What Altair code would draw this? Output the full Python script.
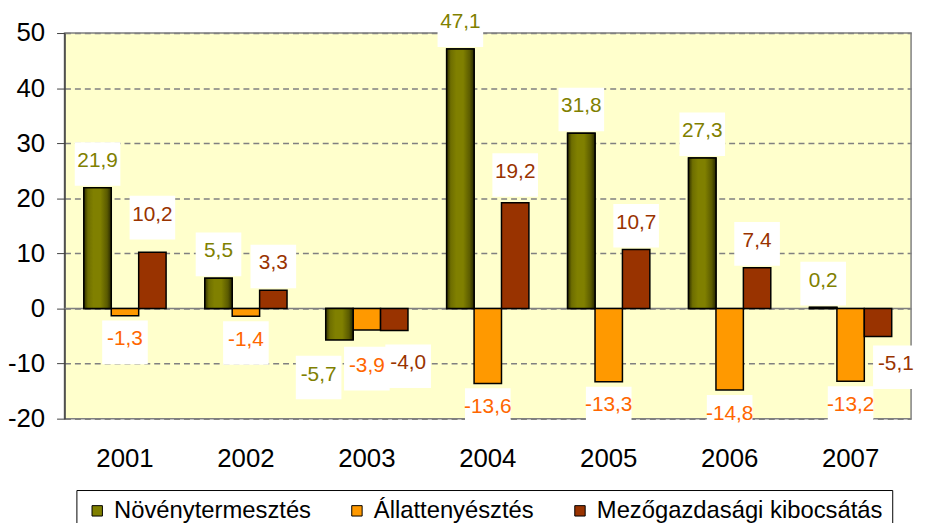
import altair as alt
import pandas as pd

years = ["2001", "2002", "2003", "2004", "2005", "2006", "2007"]
series = ["Növénytermesztés", "Állattenyésztés", "Mezőgazdasági kibocsátás"]
noveny = [21.9, 5.5, -5.7, 47.1, 31.8, 27.3, 0.2]
allat = [-1.3, -1.4, -3.9, -13.6, -13.3, -14.8, -13.2]
mezo = [10.2, 3.3, -4.0, 19.2, 10.7, 7.4, -5.1]

bar_colors = ["#808000", "#FF9900", "#993300"]
label_colors = ["#808000", "#FF6600", "#993300"]

# label placement (text dx, dy in px from the bar end)
POS_OFF = (0, -27)
NEG_OFF = (0, 24)
nudges = {
    ("2001", 2): (0, -38),
    ("2004", 2): (0, -31),
    ("2003", 0): (-21, 35),
    ("2003", 1): (0, 36),
    ("2003", 2): (14, 33),
    ("2007", 2): (18, 28),
}

rows = []
for si, vals in enumerate([noveny, allat, mezo]):
    for yr, v in zip(years, vals):
        dx, dy = nudges.get((yr, si), POS_OFF if v >= 0 else NEG_OFF)
        rows.append({
            "year": yr, "series": series[si], "sidx": si, "value": v,
            "label": f"{v:.1f}".replace(".", ","),
            "lcolor": label_colors[si], "dx": dx, "dy": dy,
        })
df = pd.DataFrame(rows)

FONT = "Liberation Sans"

x_enc = alt.X("year:N", sort=years,
              scale=alt.Scale(domain=years, paddingInner=0.32, paddingOuter=0.16),
              axis=alt.Axis(title=None, labelAngle=0, ticks=False, domain=False,
                            labelFontSize=26, labelColor="black", labelPadding=27,
                            labelFont=FONT, grid=False))
xo_enc = alt.XOffset("series:N", sort=series,
                     scale=alt.Scale(domain=series, paddingInner=0, paddingOuter=0))
y_enc = alt.Y("value:Q",
              scale=alt.Scale(domain=[-20, 50], nice=False, zero=True),
              axis=alt.Axis(title=None, values=list(range(-20, 51, 10)),
                            labelExpr="'' + datum.value", labelFontSize=26,
                            labelColor="black", labelFont=FONT, tickSize=8,
                            tickColor="#404040", domainColor="#404040",
                            domainWidth=1.5, labelPadding=12, grid=True,
                            gridColor="#808080", gridDash=[6, 4], gridWidth=1.5))

base = alt.Chart(df)

zero = alt.Chart(pd.DataFrame({"z": [0]})).mark_rule(
    color="#808080", strokeWidth=1.5).encode(y=alt.Y("z:Q"))

bars = base.mark_bar(stroke="black", strokeWidth=1.5).encode(
    x=x_enc, xOffset=xo_enc, y=y_enc,
    color=alt.Color("series:N", sort=series,
                    scale=alt.Scale(domain=series, range=bar_colors),
                    legend=alt.Legend(title=None)),
)

green_grad = alt.Gradient(
    gradient="linear", x1=0, x2=1, y1=0, y2=0,
    stops=[alt.GradientStop(color="#2e2e00", offset=0),
           alt.GradientStop(color="#6e6e00", offset=0.15),
           alt.GradientStop(color="#808000", offset=0.35),
           alt.GradientStop(color="#808000", offset=0.6),
           alt.GradientStop(color="#5a5a00", offset=0.85),
           alt.GradientStop(color="#262600", offset=1)])

green = base.transform_filter(alt.datum.sidx == 0).mark_bar(
    fill=green_grad, stroke="black", strokeWidth=1.5).encode(
    x=x_enc, xOffset=xo_enc, y=y_enc)

layers = [zero, bars, green]

S = 22.0  # symbol path unit (sqrt(size)/2)
for si in range(3):
    sub = df[df.sidx == si]
    combos = sorted(set(zip(sub.dx, sub.dy)))
    for dx, dy in combos:
        cx, cy = dx, dy + 3
        x0, x1 = (cx - 23) / S, (cx + 23) / S
        y0, y1 = (cy - 22) / S, (cy + 22) / S
        path = f"M{x0:.4f},{y0:.4f}L{x1:.4f},{y0:.4f}L{x1:.4f},{y1:.4f}L{x0:.4f},{y1:.4f}Z"
        filt = (alt.datum.sidx == si) & (alt.datum.dx == int(dx)) & (alt.datum.dy == int(dy))
        box = base.transform_filter(filt).mark_point(
            shape=path, size=S * S * 4, filled=True, fill="white",
            strokeWidth=0, opacity=1).encode(x=x_enc, xOffset=xo_enc, y=y_enc)
        txt = base.transform_filter(filt).mark_text(
            dx=int(dx), dy=int(dy), fontSize=21, font=FONT,
            baseline="middle", align="center").encode(
            x=x_enc, xOffset=xo_enc, y=y_enc, text="label:N",
            color=alt.Color("lcolor:N", scale=None))
        layers += [box, txt]

chart = alt.layer(*layers).properties(
    width=854, height=389,
    padding={"left": 57, "top": 23, "right": 8, "bottom": 103},
    autosize=alt.AutoSizeParams(type="none"),
).configure(font=FONT).configure_view(
    fill="#FFFFCC", stroke="#808080", strokeWidth=1.5
).configure_legend(
    orient="none", legendX=12, legendY=461, direction="horizontal",
    fillColor="white", strokeColor="black", padding=9,
    symbolType="square", symbolSize=110, symbolStrokeColor="black",
    symbolStrokeWidth=1, symbolOpacity=1, labelFontSize=24, labelFont=FONT,
    labelColor="black", labelOffset=5, columnPadding=34, labelLimit=0,
)

chart.save("out.html", embed_options={"renderer": "svg", "actions": False})
